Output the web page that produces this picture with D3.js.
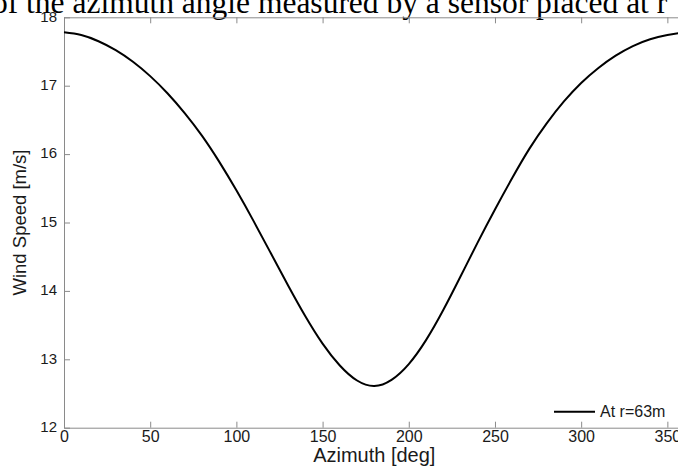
<!DOCTYPE html>
<html>
<head>
<meta charset="utf-8">
<script src="https://cdn.jsdelivr.net/npm/d3@7"></script>
<style>
  html, body { margin: 0; padding: 0; background: #fff; }
  svg { display: block; }
</style>
</head>
<body>
<script>
// Wind speed seen by a blade sensor over one rotor revolution
const azimuthDeg = [0, 10, 20, 30, 40, 50, 60, 70, 80, 90, 100, 110, 120, 130, 140, 150, 160, 170, 180,
                    190, 200, 210, 220, 230, 240, 250, 260, 270, 280, 290, 300, 310, 320, 330, 340, 350, 360];
const windSpeed = [17.78, 17.74, 17.65, 17.52, 17.35, 17.14, 16.89, 16.60, 16.27, 15.89, 15.47, 15.02, 14.55,
                   14.08, 13.63, 13.23, 12.91, 12.69, 12.61, 12.70, 12.93, 13.28, 13.72, 14.21, 14.71, 15.19,
                   15.65, 16.08, 16.45, 16.77, 17.04, 17.26, 17.44, 17.58, 17.68, 17.74, 17.78];
const xTicks = [0, 50, 100, 150, 200, 250, 300, 350];
const yTicks = [12, 13, 14, 15, 16, 17, 18];
const seriesName = "At r=63m";
const captionText = "of the azimuth angle measured by a sensor placed at r";

const W = 678, H = 466;
const svg = d3.select("body").append("svg").attr("width", W).attr("height", H);

const plotLeft = 64, plotTop = 17.3, plotBottom = 427.7, plotRight = 684.6;
const x = d3.scaleLinear().domain([0, 360]).range([plotLeft, plotRight]);
const y = d3.scaleLinear().domain([12, 18]).range([plotBottom, plotTop]);

// caption line of the surrounding document, cut by the frame
svg.append("text")
  .attr("x", -8).attr("y", 13)
  .attr("font-family", "'Liberation Serif', 'Times New Roman', serif")
  .attr("font-size", 31.5)
  .attr("fill", "#000")
  .text(captionText);

const axisColor = "#8a8a8a";
const tickFont = "Arial, 'Liberation Sans', Helvetica, sans-serif";

function styleAxis(g) {
  g.selectAll("path.domain").attr("stroke", axisColor).attr("stroke-width", 1);
  g.selectAll(".tick line").attr("stroke", axisColor).attr("stroke-width", 1);
  g.selectAll(".tick text").attr("fill", "#1a1a1a").attr("font-family", tickFont);
}

// bottom axis with inward ticks
const gx = svg.append("g").attr("transform", `translate(0,${plotBottom})`)
  .call(d3.axisBottom(x).tickValues(xTicks).tickSizeInner(-6).tickSizeOuter(0)
    .tickPadding(3).tickFormat(d3.format("d")));
styleAxis(gx);
gx.selectAll(".tick text").attr("font-size", 16);

// top border with ticks, no labels
const gxt = svg.append("g").attr("transform", `translate(0,${plotTop})`)
  .call(d3.axisTop(x).tickValues(xTicks).tickSizeInner(-6).tickSizeOuter(0).tickFormat(""));
styleAxis(gxt);

// left axis
const gy = svg.append("g").attr("transform", `translate(${plotLeft},0)`)
  .call(d3.axisLeft(y).tickValues(yTicks).tickSizeInner(-6).tickSizeOuter(0)
    .tickPadding(7).tickFormat(d3.format("d")));
styleAxis(gy);
gy.selectAll(".tick text").attr("font-size", 15).attr("dy", "0.25em");

// right border
const gyr = svg.append("g").attr("transform", `translate(${plotRight},0)`)
  .call(d3.axisRight(y).tickValues(yTicks).tickSizeInner(-6).tickSizeOuter(0).tickFormat(""));
styleAxis(gyr);

// axis titles
svg.append("text")
  .attr("x", (plotLeft + plotRight) / 2).attr("y", 462)
  .attr("text-anchor", "middle")
  .attr("font-family", tickFont).attr("font-size", 20).attr("fill", "#1a1a1a")
  .text("Azimuth [deg]");

svg.append("text")
  .attr("transform", `translate(26,${(plotTop + plotBottom) / 2}) rotate(-90)`)
  .attr("text-anchor", "middle")
  .attr("font-family", tickFont).attr("font-size", 18.5).attr("fill", "#1a1a1a")
  .text("Wind Speed [m/s]");

// curve
const points = azimuthDeg.map((a, i) => ({ a, v: windSpeed[i] }));
const line = d3.line().x(d => x(d.a)).y(d => y(d.v)).curve(d3.curveNatural);
svg.append("path")
  .datum(points)
  .attr("fill", "none")
  .attr("stroke", "#000")
  .attr("stroke-width", 2)
  .attr("d", line);

// legend entry
const lg = svg.append("g");
lg.append("line")
  .attr("x1", 554).attr("x2", 595).attr("y1", 411.7).attr("y2", 411.7)
  .attr("stroke", "#000").attr("stroke-width", 2);
lg.append("text")
  .attr("x", 600).attr("y", 417)
  .attr("font-family", tickFont).attr("font-size", 16).attr("fill", "#1a1a1a")
  .text(seriesName);
</script>
</body>
</html>
